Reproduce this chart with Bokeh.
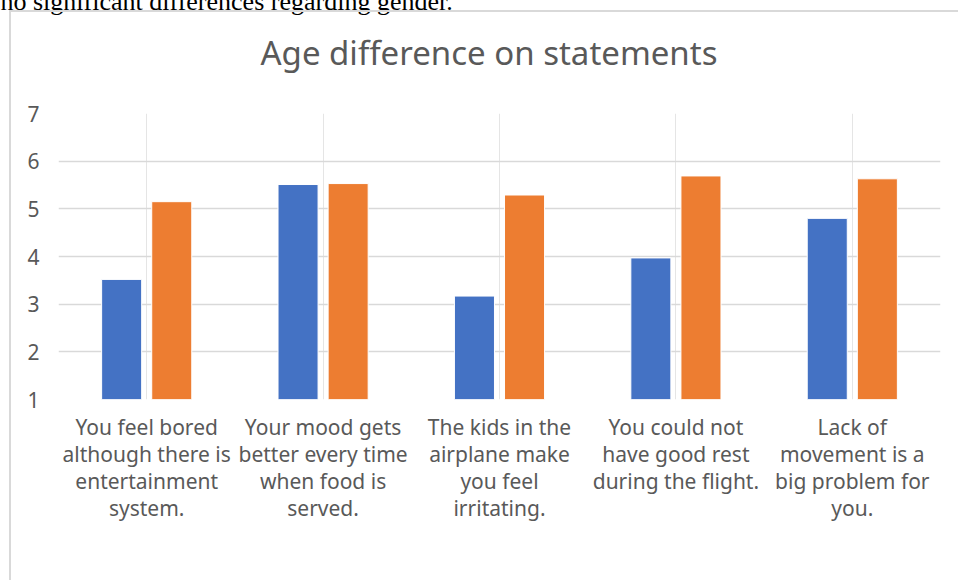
from bokeh.plotting import figure
from bokeh.models import (ColumnDataSource, Title, Legend, LegendItem, FactorRange, FixedTicker,
                          InlineStyleSheet, CategoricalAxis)
from bokeh.transform import dodge
from bokeh.embed import file_html
from bokeh.resources import INLINE

categories = [
    "You feel bored\nalthough there is\nentertainment\nsystem.",
    "Your mood gets\nbetter every time\nwhen food is\nserved.",
    "The kids in the\nairplane make\nyou feel\nirritating.",
    "You could not\nhave good rest\nduring the flight.",
    "Lack of\nmovement is a\nbig problem for\nyou.",
]
avg_50_plus = [3.52, 5.51, 3.17, 3.97, 4.80]
avg_20_40 = [5.15, 5.53, 5.29, 5.69, 5.63]
series_names = ["Average50+", "Average20-40"]
y_ticks = [1, 2, 3, 4, 5, 6, 7]

FONT = "Noto Sans"
GRAY = "#595959"
SHIFT = 18  # canvas is lifted so the document line above the chart is cut like in the reference

src = ColumnDataSource(dict(cat=categories, a=avg_50_plus, b=avg_20_40))

p = figure(frame_width=882, frame_height=286, x_range=FactorRange(factors=categories), y_range=(1, 7),
           x_axis_location=None, output_backend="svg", toolbar_location=None,
           min_border_left=58, min_border_right=18, min_border_top=113 + SHIFT, min_border_bottom=181)
p.outline_line_color = None

r1 = p.vbar(x=dodge("cat", -0.142, range=p.x_range), top="a", bottom=1, width=0.227, source=src,
            fill_color="#4472C4", line_color="white", line_width=1)
r2 = p.vbar(x=dodge("cat", 0.142, range=p.x_range), top="b", bottom=1, width=0.227, source=src,
            fill_color="#ED7D31", line_color="white", line_width=1)

p.ygrid.grid_line_color = "#d9d9d9"
p.ygrid.grid_line_width = 1.5
p.yaxis.ticker = FixedTicker(ticks=y_ticks)
p.yaxis.axis_line_color = None
p.yaxis.major_tick_line_color = None
p.yaxis.minor_tick_line_color = None
p.yaxis.major_label_standoff = 13
p.yaxis.major_label_text_font = FONT
p.yaxis.major_label_text_font_size = "21px"
p.yaxis.major_label_text_color = GRAY

# category labels: one single-line categorical axis per text line (same positions as the categories)
lines = [c.split("\n") for c in categories]
for k in range(4):
    line_factors = [ls[k] if k < len(ls) else " " for ls in lines]
    name = f"line{k}"
    p.extra_x_ranges[name] = FactorRange(factors=line_factors)
    ax = CategoricalAxis(x_range_name=name)
    ax.axis_line_color = None
    ax.major_tick_line_color = None
    ax.minor_tick_line_color = None
    ax.major_tick_out = 0
    ax.major_tick_in = 0
    ax.major_label_standoff = 13 if k == 0 else -4
    ax.major_label_text_font = FONT
    ax.major_label_text_font_size = "21px"
    ax.major_label_text_color = GRAY
    ax.major_label_text_line_height = 1.0
    ax.major_label_orientation = "horizontal"
    p.add_layout(ax, "below")

legend = Legend(items=[LegendItem(label=series_names[0], renderers=[r1]),
                       LegendItem(label=series_names[1], renderers=[r2])],
                orientation="horizontal", location="top_center",
                label_text_font=FONT, label_text_font_size="21px", label_text_color=GRAY,
                glyph_width=11, glyph_height=11, spacing=40, label_standoff=4,
                border_line_color=None, background_fill_alpha=0, margin=20, padding=0)
p.add_layout(legend, "below")

# document text above the chart (outermost, partly outside the window)
p.title = Title(text="no significant differences regarding gender.", align="left", offset=-58,
                text_font="Liberation Serif", text_font_size="26px", text_color="black",
                text_font_style="normal", standoff=0)
# spacer between chart title and plot area
p.add_layout(Title(text=" ", text_font_size="10px", standoff=14), "above")
# chart title
p.add_layout(Title(text="Age difference on statements", align="left", offset=202,
                   text_font=FONT, text_font_size="33px", text_color=GRAY,
                   text_font_style="normal", standoff=24), "above")

p.styles = {"transform": f"translateY(-{SHIFT}px)"}
p.stylesheets = [InlineStyleSheet(css=f"""
:host::after {{
  content: '';
  position: absolute;
  left: 9px;
  top: {10 + SHIFT}px;
  width: calc(100% - 9px);
  height: calc(100% - {10 + SHIFT}px);
  border-left: 2px solid #d9d9d9;
  border-top: 2px solid #d9d9d9;
  box-sizing: border-box;
  pointer-events: none;
  z-index: 5;
}}
""")]

open("out.html", "w").write(file_html(p, INLINE))
